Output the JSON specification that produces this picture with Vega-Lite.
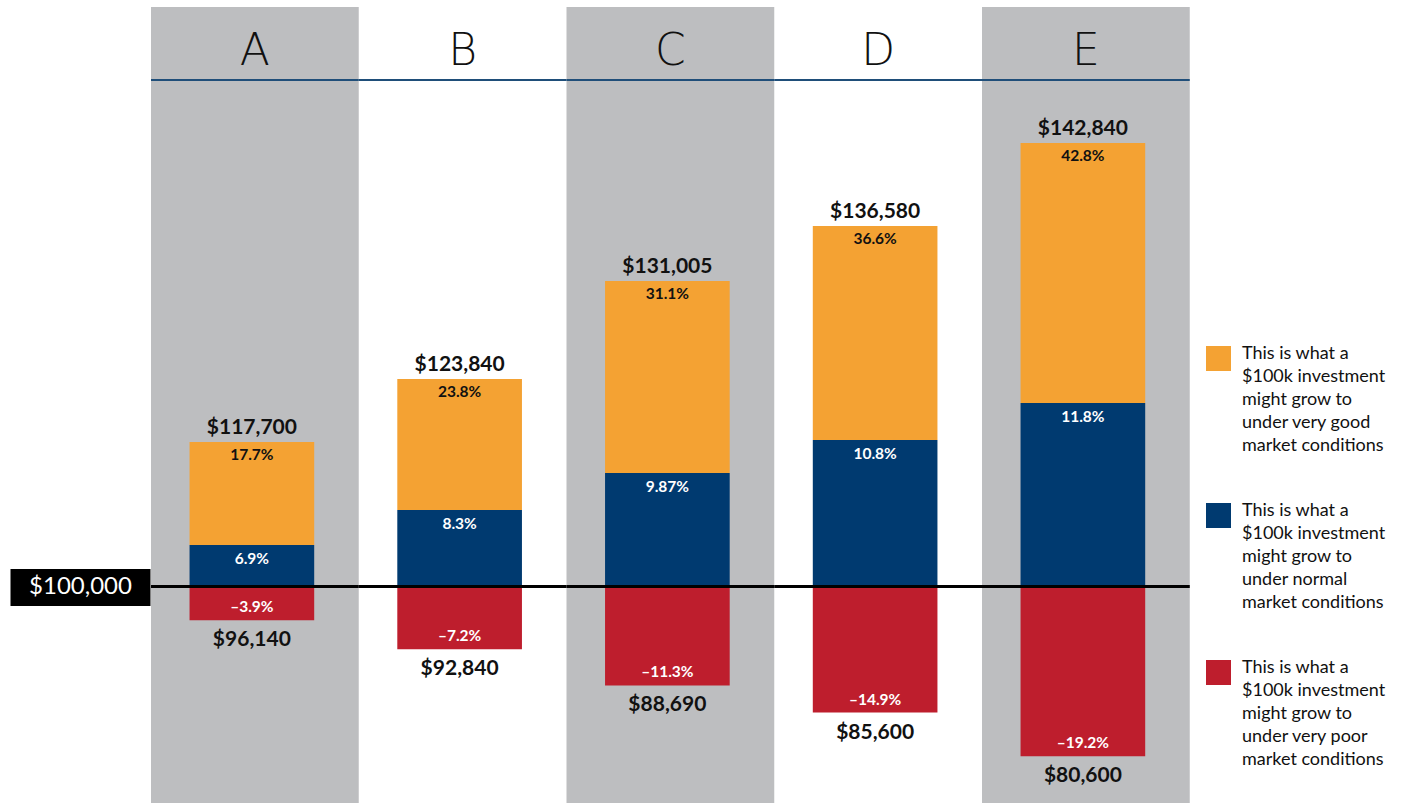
{
  "$schema": "https://vega.github.io/schema/vega-lite/v6.json",
  "width": 1403,
  "height": 796,
  "autosize": {"type": "none"},
  "padding": {"left": 0, "top": 7, "right": 0, "bottom": 0},
  "background": "white",
  "config": {
    "view": {"stroke": null},
    "style": {"guide-label": {"lineHeight": 23}}
  },
  "datasets": {
    "bands": [{"col": "A"}, {"col": "C"}, {"col": "E"}],
    "bars": [
      {"col": "A", "good": 116514, "normal": 104743, "poor": 96140, "goodTxt": "$117,700", "poorTxt": "$96,140", "goodPct": "17.7%", "normalPct": "6.9%", "poorPct": "–3.9%"},
      {"col": "B", "good": 123714, "normal": 108743, "poor": 92840, "goodTxt": "$123,840", "poorTxt": "$92,840", "goodPct": "23.8%", "normalPct": "8.3%", "poorPct": "–7.2%"},
      {"col": "C", "good": 134914, "normal": 112971, "poor": 88690, "goodTxt": "$131,005", "poorTxt": "$88,690", "goodPct": "31.1%", "normalPct": "9.87%", "poorPct": "–11.3%"},
      {"col": "D", "good": 141200, "normal": 116743, "poor": 85600, "goodTxt": "$136,580", "poorTxt": "$85,600", "goodPct": "36.6%", "normalPct": "10.8%", "poorPct": "–14.9%"},
      {"col": "E", "good": 150686, "normal": 120971, "poor": 80600, "goodTxt": "$142,840", "poorTxt": "$80,600", "goodPct": "42.8%", "normalPct": "11.8%", "poorPct": "–19.2%"}
    ]
  },
  "layer": [
    {
      "data": {"name": "bands"},
      "mark": {"type": "bar", "color": "#BDBEC0"},
      "encoding": {
        "x": {
          "field": "col", "type": "nominal",
          "scale": {"domain": ["A", "B", "C", "D", "E"], "paddingInner": 0, "paddingOuter": 0.87665, "align": 0.41455},
          "axis": {"orient": "top", "offset": -73, "zindex": 1, "domain": false, "ticks": false, "tickSize": 0, "labelPadding": 16, "labelBaseline": "alphabetic", "labelFont": "DejaVu Sans", "labelFontSize": 44, "labelFontWeight": 200, "labelColor": "#111111", "labelAngle": 0, "title": null}
        },
        "y": {"datum": 75260, "type": "quantitative"},
        "y2": {"datum": 166230}
      }
    },
    {
      "data": {"name": "bars"},
      "mark": {"type": "bar", "width": {"band": 0.6}, "xOffset": -3},
      "encoding": {
        "x": {"field": "col", "type": "nominal"},
        "y": {
          "field": "good", "type": "quantitative",
          "scale": {"domain": [75260, 166230], "nice": false, "zero": false},
          "axis": {"orient": "left", "offset": -150, "zindex": 1, "values": [100000], "labelExpr": "'$100,000'", "tickSize": 140, "tickWidth": 37, "tickColor": "#000000", "labelColor": "#ffffff", "labelFont": "Lato", "labelFontSize": 24, "labelFontWeight": "normal", "labelAlign": "center", "labelBaseline": "middle", "labelPadding": -70, "domain": false, "grid": false, "title": null}
        },
        "y2": {"field": "normal"},
        "color": {
          "datum": "good", "type": "nominal",
          "scale": {"range": ["#F4A233", "#003A70", "#BE1E2D"]},
          "legend": {
            "title": null, "orient": "none", "legendX": 1206, "legendY": 339,
            "symbolType": "square", "symbolSize": 625, "symbolStrokeWidth": 0, "symbolOpacity": 1,
            "labelFont": "Lato", "labelFontSize": 18, "labelColor": "#111111", "labelOffset": 11, "labelLimit": 300,
            "labelBaseline": "alphabetic", "rowPadding": 46,
            "labelExpr": "datum.value == 'good' ? ['This is what a','$100k investment','might grow to','under very good','market conditions'] : datum.value == 'normal' ? ['This is what a','$100k investment','might grow to','under normal','market conditions'] : ['This is what a','$100k investment','might grow to','under very poor','market conditions']"
          }
        }
      }
    },
    {
      "data": {"name": "bars"},
      "mark": {"type": "bar", "width": {"band": 0.6}, "xOffset": -3},
      "encoding": {
        "x": {"field": "col", "type": "nominal"},
        "y": {"field": "normal", "type": "quantitative"},
        "y2": {"datum": 100000},
        "color": {"datum": "normal", "type": "nominal"}
      }
    },
    {
      "data": {"name": "bars"},
      "mark": {"type": "bar", "width": {"band": 0.6}, "xOffset": -3},
      "encoding": {
        "x": {"field": "col", "type": "nominal"},
        "y": {"field": "poor", "type": "quantitative"},
        "y2": {"datum": 100000},
        "color": {"datum": "poor", "type": "nominal"}
      }
    },
    {
      "data": {"name": "bars"},
      "mark": {"type": "bar", "color": "#000000"},
      "encoding": {
        "x": {"field": "col", "type": "nominal"},
        "y": {"datum": 100171, "type": "quantitative"},
        "y2": {"datum": 99829}
      }
    },
    {
      "data": {"name": "bars"},
      "mark": {"type": "bar", "color": "#1F4E79"},
      "encoding": {
        "x": {"field": "col", "type": "nominal"},
        "y": {"datum": 158000, "type": "quantitative"},
        "y2": {"datum": 157772}
      }
    },
    {
      "data": {"name": "bars"},
      "mark": {"type": "text", "font": "Lato", "fontWeight": "bold", "fontSize": 21, "color": "#111111", "baseline": "alphabetic", "dy": -8, "xOffset": -3},
      "encoding": {
        "x": {"field": "col", "type": "nominal"},
        "y": {"field": "good", "type": "quantitative"},
        "text": {"field": "goodTxt"}
      }
    },
    {
      "data": {"name": "bars"},
      "mark": {"type": "text", "font": "Lato", "fontWeight": "bold", "fontSize": 15.5, "color": "#111111", "baseline": "middle", "dy": 13, "xOffset": -3},
      "encoding": {
        "x": {"field": "col", "type": "nominal"},
        "y": {"field": "good", "type": "quantitative"},
        "text": {"field": "goodPct"}
      }
    },
    {
      "data": {"name": "bars"},
      "mark": {"type": "text", "font": "Lato", "fontWeight": "bold", "fontSize": 15.5, "color": "#ffffff", "baseline": "middle", "dy": 14, "xOffset": -3},
      "encoding": {
        "x": {"field": "col", "type": "nominal"},
        "y": {"field": "normal", "type": "quantitative"},
        "text": {"field": "normalPct"}
      }
    },
    {
      "data": {"name": "bars"},
      "mark": {"type": "text", "font": "Lato", "fontWeight": "bold", "fontSize": 15.5, "color": "#ffffff", "baseline": "middle", "dy": -13, "xOffset": -3},
      "encoding": {
        "x": {"field": "col", "type": "nominal"},
        "y": {"field": "poor", "type": "quantitative"},
        "text": {"field": "poorPct"}
      }
    },
    {
      "data": {"name": "bars"},
      "mark": {"type": "text", "font": "Lato", "fontWeight": "bold", "fontSize": 21, "color": "#111111", "baseline": "middle", "dy": 20, "xOffset": -3},
      "encoding": {
        "x": {"field": "col", "type": "nominal"},
        "y": {"field": "poor", "type": "quantitative"},
        "text": {"field": "poorTxt"}
      }
    }
  ]
}
